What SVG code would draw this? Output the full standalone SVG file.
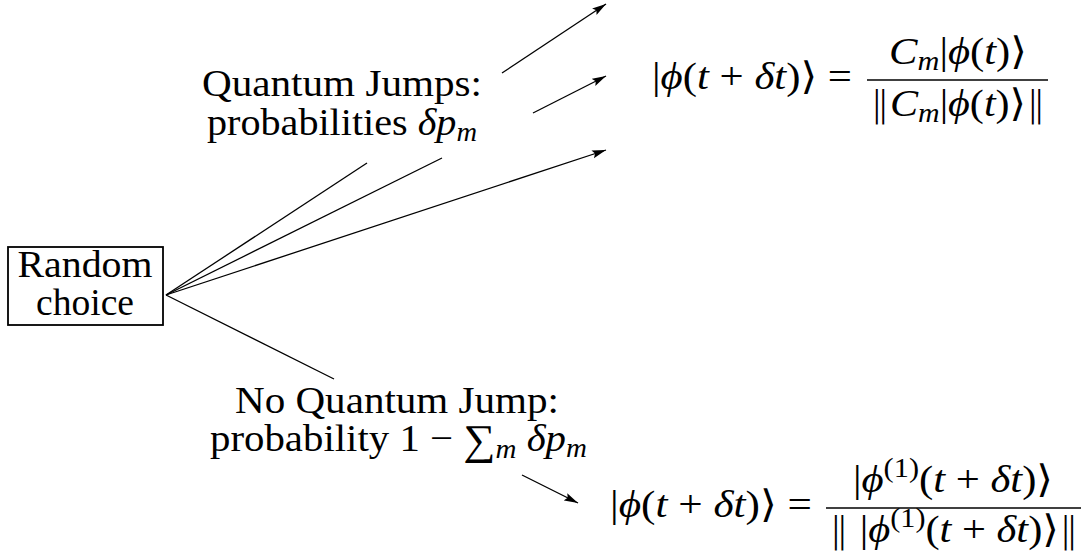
<svg xmlns="http://www.w3.org/2000/svg" width="1086" height="557" viewBox="0 0 1086 557">
<style>
.t{font-family:"Liberation Serif","DejaVu Serif",serif;font-size:38px;fill:#000}
.i{font-style:italic}
.s{font-size:27px}
.n{font-family:"DejaVu Sans",sans-serif;font-style:normal;font-weight:200;font-size:36px}
.ln{stroke:#000;stroke-width:1.3;fill:none}
.bar{stroke:#000;stroke-width:1.6}
</style>
<defs>
<marker id="ah" markerUnits="userSpaceOnUse" markerWidth="16" markerHeight="10" refX="14" refY="5" orient="auto" viewBox="0 0 16 10">
<path d="M0,1 L14,5 L0,9 L2.5,5 z" fill="#000"/>
</marker>
</defs>
<g id="connectors">
<path class="ln" d="M166,295 L367,163"/>
<path class="ln" d="M502,73 L606,4" marker-end="url(#ah)"/>
<path class="ln" d="M166,295 L442,158"/>
<path class="ln" d="M533,113 L606,76" marker-end="url(#ah)"/>
<path class="ln" d="M166,295 L606,150" marker-end="url(#ah)"/>
<path class="ln" d="M166,295 L334,379"/>
<path class="ln" d="M522,475 L578,503" marker-end="url(#ah)"/>
</g>
<g id="random-choice">
<rect x="8" y="247" width="155" height="78" fill="none" stroke="#000" stroke-width="1.8"/>
<text class="t" x="17.5" y="277" textLength="135" lengthAdjust="spacingAndGlyphs">Random</text>
<text class="t" x="36" y="315" textLength="98" lengthAdjust="spacingAndGlyphs">choice</text>
</g>
<g id="quantum-jumps-label">
<text class="t" x="202" y="96" textLength="280" lengthAdjust="spacingAndGlyphs">Quantum Jumps:</text>
<text class="t" x="207" y="135" textLength="270" lengthAdjust="spacingAndGlyphs">probabilities <tspan class="i">δp</tspan><tspan class="i s" dy="6">m</tspan></text>
</g>
<g id="no-jump-label">
<text class="t" x="235" y="413" textLength="324" lengthAdjust="spacingAndGlyphs">No Quantum Jump:</text>
<text class="t" x="210" y="451" textLength="377" lengthAdjust="spacingAndGlyphs">probability 1 − <tspan style="font-size:42px" dy="3">∑</tspan><tspan class="i s" dy="4">m</tspan><tspan class="i" dy="-7"> δp</tspan><tspan class="i s" dy="6">m</tspan></text>
</g>
<g id="jump-equation">
<text class="t" x="652" y="89" textLength="200" lengthAdjust="spacingAndGlyphs">|<tspan class="i">ϕ</tspan>(<tspan class="i">t</tspan> + <tspan class="i">δt</tspan>)⟩ =</text>
<text class="t" x="889" y="64" textLength="138" lengthAdjust="spacingAndGlyphs"><tspan class="i">C</tspan><tspan class="i s" dy="6">m</tspan><tspan dy="-6">|</tspan><tspan class="i">ϕ</tspan>(<tspan class="i">t</tspan>)⟩</text>
<line class="bar" x1="867" y1="80" x2="1048" y2="80"/>
<text class="t" x="870" y="116" textLength="176" lengthAdjust="spacingAndGlyphs"><tspan class="n">‖</tspan><tspan class="i">C</tspan><tspan class="i s" dy="6">m</tspan><tspan dy="-6">|</tspan><tspan class="i">ϕ</tspan>(<tspan class="i">t</tspan>)⟩<tspan class="n">‖</tspan></text>
</g>
<g id="no-jump-equation">
<text class="t" x="610" y="517" textLength="202" lengthAdjust="spacingAndGlyphs">|<tspan class="i">ϕ</tspan>(<tspan class="i">t</tspan> + <tspan class="i">δt</tspan>)⟩ =</text>
<text class="t" x="853" y="492" textLength="200" lengthAdjust="spacingAndGlyphs">|<tspan class="i">ϕ</tspan><tspan class="s" dy="-15">(1)</tspan><tspan dy="15">(</tspan><tspan class="i">t</tspan> + <tspan class="i">δt</tspan>)⟩</text>
<line class="bar" x1="826" y1="508" x2="1081" y2="508"/>
<text class="t" x="829" y="542" textLength="250" lengthAdjust="spacingAndGlyphs"><tspan class="n">‖</tspan> |<tspan class="i">ϕ</tspan><tspan class="s" dy="-15">(1)</tspan><tspan dy="15">(</tspan><tspan class="i">t</tspan> + <tspan class="i">δt</tspan>)⟩<tspan class="n">‖</tspan></text>
</g>
</svg>
